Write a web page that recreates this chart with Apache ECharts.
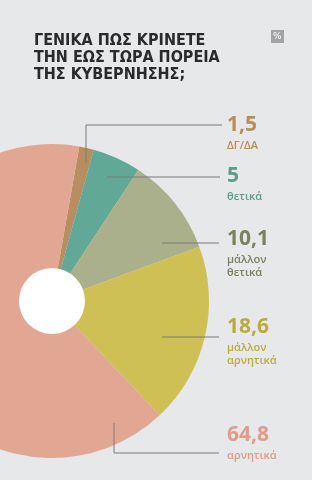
<!DOCTYPE html>
<html><head><meta charset="utf-8">
<script src="https://cdn.jsdelivr.net/npm/echarts@6/dist/echarts.min.js"></script>
<style>html,body{margin:0;padding:0;background:#e7e8ea;}#c{width:312px;height:480px;}</style>
</head><body><div id="c"></div>
<script>
const categories = ['ΔΓ/ΔΑ', 'θετικά', 'μάλλον\nθετικά', 'μάλλον\nαρνητικά', 'αρνητικά'];
const values = [1.5, 5, 10.1, 18.6, 64.8];
const valueLabels = ['1,5', '5', '10,1', '18,6', '64,8'];
const sliceColors = ['#b88e60', '#62a896', '#a9b08b', '#cfc056', '#e2a793'];
const textColors = ['#b98c5e', '#5a9e88', '#7c8160', '#bbab3e', '#e39a88'];
const titleText = 'ΓΕΝΙΚΑ ΠΩΣ ΚΡΙΝΕΤΕ\nΤΗΝ ΕΩΣ ΤΩΡΑ ΠΟΡΕΙΑ\nΤΗΣ ΚΥΒΕΡΝΗΣΗΣ;';

// label layout (positions only)
const labelPos = [
  {x: 227, y: 112, pts: [[86,163],[86,125],[222,125]]},
  {x: 227, y: 163, pts: [[107,177],[220,177]]},
  {x: 227, y: 226, pts: [[162,243],[219,243]]},
  {x: 227, y: 314, pts: [[162,337],[219,337]]},
  {x: 227, y: 422, pts: [[114,423],[114,453],[219,453]]}
];

const chart = echarts.init(document.getElementById('c'), null, {renderer: 'canvas'});
const data = values.map((v, i) => ({
  value: v,
  name: categories[i],
  itemStyle: {color: sliceColors[i]},
  label: {
    formatter: '{v|' + valueLabels[i] + '}\n{n|' + categories[i] + '}',
    rich: {
      v: {fontFamily: 'Open Sans', fontWeight: 'bold', fontSize: 21, lineHeight: 27, color: textColors[i]},
      n: {fontFamily: 'Open Sans', fontWeight: 600, fontSize: 11, lineHeight: 13, color: textColors[i]}
    }
  }
}));

const leaderLines = labelPos.map(L => ({
  type: 'polyline', z: 100, silent: true,
  shape: {points: L.pts},
  style: {stroke: '#7a7a7a', lineWidth: 1, fill: null}
}));

chart.setOption({
  backgroundColor: '#e7e8ea',
  animation: false,
  title: {
    text: titleText,
    left: 29, top: 27,
    textStyle: {fontFamily: '"DejaVu Sans Condensed"', fontWeight: 'bold', fontSize: 16, lineHeight: 17, color: '#2a2a2c'}
  },
  graphic: [
    {type: 'rect', left: 271, top: 30, shape: {width: 13, height: 13}, style: {fill: '#a3a3a3'}},
    {type: 'text', left: 273, top: 32, style: {text: '%', fill: '#ffffff', font: '9px DejaVu Sans'}}
  ].concat(leaderLines),
  series: [
    {
      type: 'pie',
      center: [52, 301],
      radius: [0, 157],
      startAngle: 80,
      clockwise: true,
      avoidLabelOverlap: false,
      data: data,
      label: {show: true, position: 'outside', align: 'left'},
      labelLine: {show: false},
      labelLayout: function (p) {
        const L = labelPos[p.dataIndex];
        return {x: L.x, y: L.y, align: 'left', verticalAlign: 'top'};
      },
      emphasis: {disabled: true}
    },
    {
      type: 'pie',
      center: [52, 301],
      radius: [0, 33],
      silent: true,
      label: {show: false},
      labelLine: {show: false},
      data: [{value: 1, itemStyle: {color: '#ffffff'}}]
    }
  ]
});
</script></body></html>
